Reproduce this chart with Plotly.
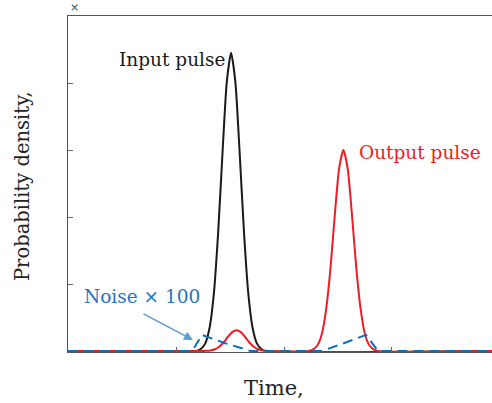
import plotly.graph_objects as go

# Input pulse (black)
input_t = [0.0, 1.19, 1.23, 1.27, 1.31, 1.35, 1.39, 1.43, 1.47, 1.51, 1.55, 1.59, 1.63, 1.67, 1.71, 1.75, 1.79, 1.83, 3.93]
input_p = [0.0, 0.0, 0.03, 0.11, 0.34, 0.85, 1.76, 2.94, 4.01, 4.45, 4.01, 2.94, 1.76, 0.85, 0.34, 0.11, 0.03, 0.0, 0.0]

# Output pulse (red), including small leak near the input pulse
output_t = [0.0, 1.24, 1.28, 1.32, 1.36, 1.40, 1.44, 1.48, 1.52, 1.56, 1.60, 1.64, 1.68, 1.72, 1.76, 1.80, 1.84, 1.88,
            2.23, 2.27, 2.31, 2.35, 2.39, 2.43, 2.47, 2.51, 2.55, 2.59, 2.63, 2.67, 2.71, 2.75, 2.79, 2.83, 2.87, 3.93]
output_p = [0.0, 0.0, 0.003, 0.009, 0.026, 0.064, 0.127, 0.209, 0.281, 0.31, 0.281, 0.209, 0.127, 0.064, 0.026, 0.009, 0.003, 0.0,
            0.0, 0.024, 0.086, 0.25, 0.62, 1.23, 2.02, 2.72, 3.0, 2.72, 2.02, 1.23, 0.62, 0.25, 0.086, 0.024, 0.0, 0.0]

# Noise x 100 (blue dashed)
noise_t = [0.0, 1.15, 1.24, 1.45, 1.69, 2.35, 2.56, 2.76, 2.87, 3.93]
noise_p = [0.0, 0.0, 0.24, 0.12, 0.0, 0.0, 0.12, 0.24, 0.0, 0.0]

x_ticks = [0, 1, 2, 3]
y_ticks = [0, 1, 2, 3, 4, 5]

W, H = 492, 403
L, R, T, B = 68, 0, 16, 51
pw, ph = W - L - R, H - T - B
serif = "DejaVu Serif"


def px(x):
    return (x - L) / pw


def py(y):
    return (H - B - y) / ph


def label(text, x, y, size, color, angle=0):
    return dict(text=text, x=px(x), y=py(y), xref="paper", yref="paper", showarrow=False,
                xanchor="center", yanchor="middle",
                textangle=angle, font=dict(family=serif, size=size, color=color))


fig = go.Figure()
fig.add_trace(go.Scatter(x=input_t, y=input_p, mode="lines", line=dict(color="#1a1a1a", width=2, shape="spline", smoothing=0.6)))
fig.add_trace(go.Scatter(x=output_t, y=output_p, mode="lines", line=dict(color="#ee1c25", width=2, shape="spline", smoothing=0.6)))
fig.add_trace(go.Scatter(x=noise_t, y=noise_p, mode="lines", line=dict(color="#0c6fba", width=2, dash="10px,6px")))

annotations = [
    label("Time,", 274, 388, 21, "#222222"),
    label("Probability density,", 22, 186, 19.5, "#222222", -90),
    label("Input pulse", 172, 60, 18.5, "#1a1a1a"),
    label("Output pulse", 420, 152, 18.5, "#ee1c25"),
    label("Noise × 100", 142, 296, 18.5, "#1f77c4"),
    label("×", 74, 7, 11, "#444444"),
    dict(x=px(193), y=py(340), ax=142 - 193, ay=313 - 340, axref="pixel", ayref="pixel",
         xref="paper", yref="paper", text="", showarrow=True,
         arrowhead=2, arrowsize=1.2, arrowwidth=1.5, arrowcolor="#5b9bd5"),
]

fig.update_layout(
    width=W, height=H,
    margin=dict(l=L, r=R, t=T, b=B),
    paper_bgcolor="white", plot_bgcolor="white",
    showlegend=False,
    font=dict(family=serif, color="#222222"),
    xaxis=dict(range=[0, 3.926], tickvals=x_ticks, showticklabels=False, ticks="inside", ticklen=5,
               tickcolor="#666666", showline=True, linecolor="#555555", linewidth=1.3, mirror=True,
               showgrid=False, zeroline=False),
    yaxis=dict(range=[-0.015, 5.0], tickvals=y_ticks, showticklabels=False, ticks="inside", ticklen=5,
               tickcolor="#666666", showline=True, linecolor="#555555", linewidth=1.3, mirror=False,
               showgrid=False, zeroline=False),
    annotations=annotations,
)

fig.write_html("out.html", config={"displayModeBar": False},
               post_script="document.body.style.margin='0px';document.body.style.overflow='hidden';")
